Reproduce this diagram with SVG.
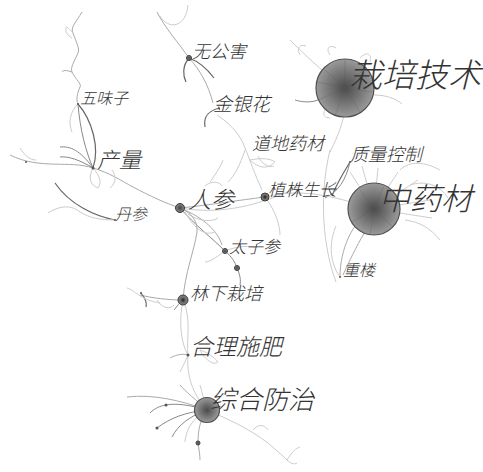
<svg xmlns="http://www.w3.org/2000/svg" width="483" height="472" viewBox="0 0 483 472">
<defs>
<radialGradient id="big" cx="50%" cy="50%" r="50%">
<stop offset="0" stop-color="#4a4a4a"/>
<stop offset="0.6" stop-color="#7a7a7a"/>
<stop offset="1" stop-color="#9a9a9a"/>
</radialGradient>
<radialGradient id="mid" cx="50%" cy="50%" r="50%">
<stop offset="0" stop-color="#444"/>
<stop offset="1" stop-color="#8a8a8a"/>
</radialGradient>
</defs>
<style>
.e{fill:none;stroke:#aaaaaa;stroke-width:1}
.f{fill:none;stroke:#cccccc;stroke-width:1}
.d{fill:none;stroke:#666666;stroke-width:1.2}
.m{fill:none;stroke:#888888;stroke-width:1}
.s{fill:none;stroke:#5a5a5a;stroke-width:0.5;opacity:0.6}
.big{fill:url(#big);stroke:#505050;stroke-width:1.2}
.dot{fill:url(#mid);stroke:#3a3a3a;stroke-width:1}
.sm{fill:#555}
text{font-family:"Noto Sans CJK SC","Noto Sans",sans-serif;fill:#333333;font-style:italic;font-weight:300}
</style>
<rect width="483" height="472" fill="#ffffff"/>
<g id="connectors">
<path class="e" d="M82,12 C76,22 70,28 73,33 C76,42 80,48 78,53 C74,62 70,68 72,72 C76,80 82,84 80,87 C77,94 76,100 78,104"/>
<path class="f" d="M73,33 C68,28 66,25 66,28 C65,32 68,36 72,38"/>
<path class="e" d="M72,72 C66,70 63,70 62,72"/>
<path class="d" d="M78,104 C92,120 100,148 93,168"/>
<path class="m" d="M78,104 C80,130 86,152 93,168"/>
<path class="f" d="M78,104 C70,112 68,122 72,132"/>
<path class="e" d="M93,168 C70,160 40,170 10,155"/>
<path class="m" d="M93,168 C80,150 70,146 60,147"/>
<path class="m" d="M93,168 C80,160 68,156 60,157"/>
<path class="f" d="M93,168 C88,178 90,185 98,188 C102,183 100,176 93,168"/>
<path class="e" d="M93,168 C110,173 120,180 133,187 C150,196 165,203 180,208"/>
<path class="f" d="M112,170 C118,178 114,185 110,188"/>
<path class="d" d="M55,183 C70,205 95,216 115,220"/>
<path class="f" d="M48,213 C60,205 72,205 80,212 C90,218 100,220 115,220"/>
<path class="f" d="M20,148 C25,156 30,160 36,160"/>
<path class="e" d="M157,12 C165,28 178,42 189,58"/>
<path class="f" d="M160,16 C168,30 186,28 188,5"/>
<path class="d" d="M189,58 C182,66 183,76 186,82"/>
<path class="d" d="M189,58 C200,62 208,70 214,78"/>
<path class="e" d="M189,58 C200,70 208,84 213,103"/>
<path class="d" d="M205,127 C203,116 210,110 220,108"/>
<path class="f" d="M217,115 C228,122 238,132 243,143 C250,160 255,175 262,190"/>
<path class="f" d="M250,160 C258,168 268,170 275,162 C270,158 260,158 250,160 Z"/>
<path class="f" d="M258,156 C262,165 270,168 274,166"/>
<path class="f" d="M245,150 C240,165 235,175 228,182"/>
<path class="f" d="M345,88 C320,70 302,52 290,40"/>
<path class="f" d="M300,55 C296,48 300,44 306,46"/>
<path class="m" d="M318,100 C310,103 302,102 295,100"/>
<path class="f" d="M325,110 C322,115 325,118 330,118"/>
<path class="f" d="M345,88 C348,112 340,132 330,152"/>
<path class="f" d="M330,55 C325,48 330,44 336,48"/>
<path class="f" d="M360,58 C368,50 372,55 370,62"/>
<path class="f" d="M374,95 C385,95 395,98 402,104"/>
<path class="d" d="M350,162 C342,175 336,185 332,196"/>
<path class="m" d="M350,162 C346,180 338,192 325,198"/>
<path class="f" d="M265,197 C300,188 330,195 374,209"/>
<path class="f" d="M265,197 C275,210 280,225 280,235"/>
<path class="s" d="M374,209 L350,172 M374,209 L362,166 M374,209 L378,168 M374,209 L398,172 M374,209 L418,180 M374,209 L430,200 M374,209 L432,218"/>
<path class="f" d="M355,160 C360,150 372,148 385,155 M400,170 C410,160 425,162 440,170 M410,185 C425,180 440,185 448,198 M405,220 C420,222 430,228 440,240"/>
<path class="e" d="M374,209 C352,220 340,250 340,277"/>
<path class="f" d="M340,277 C328,260 330,240 336,226"/>
<path class="e" d="M343,275 C352,255 360,240 366,230"/>
<path class="f" d="M330,150 C318,200 324,250 336,282"/>
<path class="e" d="M180,208 C210,205 240,200 265,197"/>
<path class="f" d="M180,208 C220,215 260,206 300,186"/>
<path class="f" d="M210,182 C215,175 220,168 223,160"/>
<path class="f" d="M205,186 C212,180 220,182 222,186"/>
<path class="m" d="M180,208 C195,225 212,238 225,251"/>
<path class="e" d="M180,208 C205,218 218,232 222,245"/>
<path class="f" d="M185,212 C195,230 205,236 215,232 M188,214 C200,222 212,222 218,218"/>
<path class="m" d="M225,251 C232,257 235,262 237,268 C240,275 241,280 240,285"/>
<path class="f" d="M225,251 C215,258 210,262 205,262 M225,251 C240,245 250,246 255,248"/>
<path class="e" d="M183,300 C185,272 194,252 197,232 C198,220 190,212 180,208"/>
<path class="e" d="M183,300 C168,300 152,298 140,295"/>
<path class="d" d="M141,293 C145,298 147,303 146,307"/>
<path class="f" d="M127,288 C135,290 140,300 160,303"/>
<path class="f" d="M157,300 C162,308 170,310 174,305"/>
<path class="m" d="M183,300 C178,304 176,308 174,310"/>
<path class="f" d="M183,300 C192,320 186,340 188,355"/>
<path class="f" d="M183,300 C178,325 182,345 188,355"/>
<path class="f" d="M200,350 C205,360 214,366 218,362 C212,355 206,352 200,350"/>
<path class="e" d="M188,355 C180,353 174,356 170,358"/>
<path class="f" d="M188,355 C185,362 182,368 180,372"/>
<path class="f" d="M188,355 C186,380 196,398 207,410"/>
<path class="e" d="M207,410 C180,400 152,394 127,397"/>
<path class="m" d="M207,410 C190,405 176,403 166,405 C160,406 155,408 150,413"/>
<path class="m" d="M207,410 C186,412 170,418 157,428"/>
<path class="m" d="M207,410 C190,416 178,425 172,437"/>
<path class="e" d="M207,410 C200,420 198,430 198,443 C199,450 200,455 200,460"/>
<path class="e" d="M207,410 C196,400 186,392 180,385"/>
<path class="f" d="M207,410 C204,400 202,392 200,385"/>
<path class="f" d="M207,410 C190,420 186,432 185,442"/>
<path class="f" d="M207,410 C230,420 248,428 268,443 C276,450 282,455 287,460"/>
<path class="f" d="M253,430 C258,424 264,424 268,430"/>
<path class="f" d="M287,460 C292,452 296,448 300,447 M287,460 C290,463 294,465 297,463"/>
</g>
<g id="n-zaipei">
<circle class="big" cx="345" cy="88" r="29"/>
<path class="s" d="M345,88 L325,70 M345,88 L345,60 M345,88 L365,68 M345,88 L372,92 M345,88 L360,112 M345,88 L335,116 M345,88 L318,100 M345,88 L317,82"/>
<text x="349" y="87" font-size="33">栽培技术</text>
</g>
<g id="n-zhongyao">
<circle class="big" cx="374" cy="209" r="26"/>
<path class="s" d="M374,209 L360,190 M374,209 L384,186 M374,209 L396,200 M374,209 L392,226 M374,209 L370,234 M374,209 L352,222"/>
<text x="379" y="210" font-size="31">中药材</text>
</g>
<g id="n-renshen">
<circle class="dot" cx="180" cy="208" r="4.5"/>
<text x="188" y="208" font-size="23">人参</text>
</g>
<g id="n-chanliang">
<circle class="sm" cx="93" cy="168" r="1.5"/>
<text x="97" y="168" font-size="22">产量</text>
</g>
<g id="n-zonghe">
<circle class="big" cx="207" cy="410" r="12.5"/>
<text x="210" y="409" font-size="26">综合防治</text>
</g>
<g id="n-heli">
<circle class="sm" cx="188" cy="355" r="1.5"/>
<text x="190" y="355" font-size="23">合理施肥</text>
</g>
<g id="n-linxia">
<circle class="dot" cx="183" cy="300" r="5"/>
<circle cx="183" cy="300" r="1.5" fill="#333"/>
<text x="190" y="300" font-size="18">林下栽培</text>
</g>
<g id="n-zhizhu">
<circle class="dot" cx="265" cy="197" r="4"/>
<circle cx="265" cy="197" r="1.5" fill="#333"/>
<text x="268" y="196" font-size="17">植株生长</text>
</g>
<g id="n-taizi">
<circle class="dot" cx="225" cy="251" r="2.5"/>
<circle class="dot" cx="237" cy="268" r="2.5"/>
<text x="229" y="253" font-size="17">太子参</text>
</g>
<g id="n-zhiliang">
<circle class="sm" cx="350" cy="162" r="1"/>
<text x="350" y="161" font-size="18">质量控制</text>
</g>
<g id="n-daodi">
<text x="252" y="150" font-size="18">道地药材</text>
</g>
<g id="n-jinyin">
<text x="213" y="111" font-size="19">金银花</text>
</g>
<g id="n-wugong">
<circle class="dot" cx="189" cy="58" r="2.5"/>
<text x="192" y="58" font-size="18">无公害</text>
</g>
<g id="n-wuwei">
<circle class="sm" cx="78" cy="104" r="1"/>
<text x="80" y="104" font-size="16">五味子</text>
</g>
<g id="n-danshen">
<circle class="sm" cx="115" cy="220" r="1"/>
<text x="115" y="220" font-size="16">丹参</text>
</g>
<g id="n-chonglou">
<circle class="sm" cx="340" cy="277" r="1"/>
<text x="343" y="276" font-size="16">重楼</text>
</g>
<g id="minor">
<circle class="sm" cx="166" cy="405" r="1.5"/>
<circle class="sm" cx="157" cy="428" r="1.5"/>
<circle class="dot" cx="198" cy="443" r="2"/>
<circle class="sm" cx="26" cy="162" r="1"/>
<circle class="sm" cx="141" cy="293" r="1"/>
</g>
</svg>
